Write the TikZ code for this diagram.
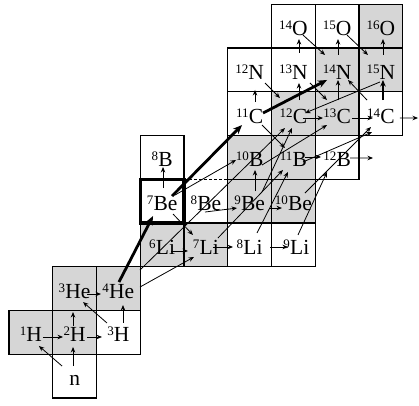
\documentclass[tikz,border=0pt]{standalone}
\usepackage{fontspec}
\setmainfont{Liberation Serif}
\usetikzlibrary{arrows.meta}
\newcommand{\iso}[2]{\raisebox{6pt}{\fontsize{13}{13}\selectfont #1}\kern0.2pt#2}
\begin{document}
\begin{tikzpicture}[x=1pt,y=-1pt,
  cell/.style={draw=black, line width=1.2pt, fill=white, minimum width=43.75pt, minimum height=43.75pt,
    inner sep=0pt, outer sep=0pt, text height=19pt, text depth=0pt, font=\fontsize{21.5}{21.5}\selectfont},
  stab/.style={cell, fill=black!16},
  ar/.style={-{Stealth[length=5.5pt,width=4.5pt]}, line width=0.8pt},
  mid/.style={-{Stealth[length=6.5pt,width=5.5pt]}, line width=1.6pt},
  thk/.style={-{Stealth[length=9pt,width=7.5pt]}, line width=2.8pt},
]
\useasboundingbox[fill=white] (0,0) rectangle (419,405);
% cells
\node[cell, draw=none] (c8Be) at (205.875,201.125) {\iso{8}{Be}};
\node[cell] (cn)   at (74.625,376.125) {n};
\node[stab] (c1H)  at (30.875,332.375) {\iso{1}{H}};
\node[stab] (c2H)  at (74.625,332.375) {\iso{2}{H}};
\node[cell] (c3H)  at (118.375,332.375) {\iso{3}{H}};
\node[stab] (c3He) at (74.625,288.625) {\iso{3}{He}};
\node[stab] (c4He) at (118.375,288.625) {\iso{4}{He}};
\node[stab] (c6Li) at (162.125,244.875) {\iso{6}{Li}};
\node[stab] (c7Li) at (205.875,244.875) {\iso{7}{Li}};
\node[cell] (c8Li) at (249.625,244.875) {\iso{8}{Li}};
\node[cell] (c9Li) at (293.375,244.875) {\hspace{6pt}\iso{9}{Li}};
\node[cell] (c7Be) at (162.125,201.125) {\iso{7}{Be}};
\node[stab] (c9Be) at (249.625,201.125) {\iso{9}{Be}};
\node[stab] (c10Be) at (293.375,201.125) {\iso{10}{Be}};
\node[cell] (c8B)  at (162.125,157.375) {\iso{8}{B}};
\node[stab] (c10B) at (249.625,157.375) {\iso{10}{B}};
\node[stab] (c11B) at (293.375,157.375) {\iso{11}{B}};
\node[cell] (c12B) at (337.125,157.375) {\iso{12}{B}};
\node[cell] (c11C) at (249.625,113.625) {\iso{11}{C}};
\node[stab] (c12C) at (293.375,113.625) {\iso{12}{C}};
\node[stab] (c13C) at (337.125,113.625) {\iso{13}{C}};
\node[cell] (c14C) at (380.875,113.625) {\iso{14}{C}};
\node[cell] (c12N) at (249.625,69.875) {\iso{12}{N}};
\node[cell] (c13N) at (293.375,69.875) {\iso{13}{N}};
\node[stab] (c14N) at (337.125,69.875) {\iso{14}{N}};
\node[stab] (c15N) at (380.875,69.875) {\iso{15}{N}};
\node[cell] (c14O) at (293.375,26.125) {\iso{14}{O}};
\node[cell] (c15O) at (337.125,26.125) {\iso{15}{O}};
\node[stab] (c16O) at (380.875,26.125) {\iso{16}{O}};
\draw[line width=1.1pt, dashed, dash pattern=on 3pt off 2pt] (c8Be.north west) -- (c8Be.north east);
\draw[line width=3.2pt] (c7Be.south west) rectangle (c7Be.north east);
\coordinate (out12B) at (373,158);
\coordinate (out14C) at (418,118);
% light nuclei
\draw[ar] ([shift={(-12.6,-10.1)}]cn.center) -- ([shift={(8.1,13.6)}]c1H.center);
\draw[ar] ([shift={(-1.6,-10.1)}]cn.center) -- ([shift={(-1.6,14.6)}]c2H.center);
\draw[ar] ([shift={(12.1,4.6)}]c1H.center) -- ([shift={(-11.6,4.6)}]c2H.center);
\draw[ar] ([shift={(12.4,4.6)}]c2H.center) -- ([shift={(-16.4,4.6)}]c3H.center);
\draw[ar] ([shift={(-1.6,-6.4)}]c2H.center) -- ([shift={(-1.6,23.4)}]c3He.center);
\draw[ar] ([shift={(-11.4,-9.4)}]c3H.center) -- ([shift={(8.4,13.4)}]c3He.center);
\draw[ar] ([shift={(4.6,-9.4)}]c3H.center) -- ([shift={(4.6,16.4)}]c4He.center);
\draw[ar] ([shift={(12.4,5.4)}]c3He.center) -- ([shift={(-17.4,5.4)}]c4He.center);
% Li Be B
\draw[thk] ([shift={(0.6,-6.6)}]c4He.center) -- ([shift={(-9.1,14.9)}]c7Be.center);
\draw[ar] ([shift={(21.6,-1.6)}]c4He.center) -- ([shift={(-11.9,12.1)}]c7Li.center);
\draw[ar] ([shift={(21.6,-18.6)}]c4He.center) -- ([shift={(-8.4,14.4)}]c12C.center);
\draw[ar] ([shift={(8.9,6.1)}]c6Li.center) -- ([shift={(-17.9,6.1)}]c7Li.center);
\draw[ar] ([shift={(10.9,12.9)}]c7Be.center) -- ([shift={(-12.9,-9.9)}]c7Li.center);
\draw[ar] ([shift={(0.9,-13.1)}]c7Be.center) -- ([shift={(0.9,9.6)}]c8B.center);
\draw[ar] ([shift={(7.1,2.1)}]c7Li.center) -- ([shift={(-16.6,2.1)}]c8Li.center);
\draw[ar] ([shift={(20.4,2.1)}]c8Li.center) -- ([shift={(-5.4,2.1)}]c9Li.center);
\draw[thk] ([shift={(9.9,-5.1)}]c7Be.center) -- ([shift={(-7.6,11.4)}]c11C.center);
\draw[ar] ([shift={(12.9,-6.1)}]c7Be.center) -- ([shift={(-13.6,2.6)}]c10B.center);
\draw[ar] ([shift={(-0.9,10.9)}]c8Be.center) -- ([shift={(-12.6,6.9)}]c9Be.center);
\draw[ar] ([shift={(20.4,6.9)}]c9Be.center) -- ([shift={(-11.4,6.9)}]c10Be.center);
\draw[ar] ([shift={(5.4,-10.1)}]c9Be.center) -- ([shift={(5.4,12.6)}]c10B.center);
\draw[ar] ([shift={(11.6,-0.4)}]c11B.center) -- ([shift={(-16.1,-0.4)}]c12B.center);
\draw[ar] ([shift={(12.9,0.6)}]c12B.center) -- (out12B);
\draw[ar] ([shift={(7.4,-11.9)}]c8Li.center) -- ([shift={(-5.4,14.6)}]c11B.center);
\draw[ar] ([shift={(12.1,-6.9)}]c7Li.center) -- ([shift={(-10.4,12.6)}]c11B.center);
\draw[ar] ([shift={(12.4,-9.1)}]c9Be.center) -- ([shift={(-1.4,14.4)}]c12C.center);
\draw[ar] ([shift={(12.4,7.6)}]c10B.center) -- ([shift={(-10.1,11.4)}]c13C.center);
\draw[ar] ([shift={(11.6,-8.1)}]c10Be.center) -- ([shift={(-9.9,13.4)}]c14C.center);
\draw[ar] ([shift={(9.6,4.6)}]c11B.center) -- ([shift={(-8.9,18.4)}]c14C.center);
\draw[ar] ([shift={(4.6,-9.9)}]c9Li.center) -- ([shift={(-10.1,14.6)}]c12B.center);
\draw[ar] ([shift={(12.4,11.4)}]c11C.center) -- ([shift={(-8.4,-9.4)}]c11B.center);
% C N O
\draw[ar] ([shift={(9.6,4.4)}]c12C.center) -- ([shift={(-14.1,4.4)}]c13C.center);
\draw[ar] ([shift={(14.9,4.4)}]c13C.center) -- ([shift={(-7.9,4.4)}]c14C.center);
\draw[ar] ([shift={(19.1,4.4)}]c14C.center) -- (out14C);
\draw[ar] ([shift={(5.4,-11.6)}]c11C.center) -- ([shift={(5.4,20.1)}]c12N.center);
\draw[ar] ([shift={(5.6,-13.6)}]c12C.center) -- ([shift={(5.6,13.1)}]c13N.center);
\draw[ar] ([shift={(0.9,-13.6)}]c13C.center) -- ([shift={(0.9,10.1)}]c14N.center);
\draw[mid] ([shift={(2.1,-13.6)}]c14C.center) -- ([shift={(2.1,10.1)}]c15N.center);
\draw[ar] ([shift={(-13.9,-13.6)}]c14C.center) -- ([shift={(10.9,10.1)}]c14N.center);
\draw[thk] ([shift={(13.4,-0.6)}]c11C.center) -- ([shift={(-10.1,10.1)}]c14N.center);
\draw[ar] ([shift={(-0.9,12.1)}]c15N.center) -- ([shift={(11.6,-0.6)}]c12C.center);
\draw[ar] ([shift={(5.6,-16.9)}]c13N.center) -- ([shift={(5.6,12.9)}]c14O.center);
\draw[ar] ([shift={(0.9,-14.9)}]c14N.center) -- ([shift={(0.9,12.9)}]c15O.center);
\draw[ar] ([shift={(2.1,-14.9)}]c15N.center) -- ([shift={(2.1,12.9)}]c16O.center);
\draw[ar] ([shift={(9.6,8.9)}]c14O.center) -- ([shift={(-12.1,-14.9)}]c14N.center);
\draw[ar] ([shift={(9.9,8.9)}]c15O.center) -- ([shift={(-12.9,-14.9)}]c15N.center);
\draw[ar] ([shift={(15.4,13.1)}]c12N.center) -- ([shift={(-13.4,-15.6)}]c12C.center);
\draw[ar] ([shift={(16.6,13.1)}]c13N.center) -- ([shift={(-10.1,-13.6)}]c13C.center);
\end{tikzpicture}
\end{document}
